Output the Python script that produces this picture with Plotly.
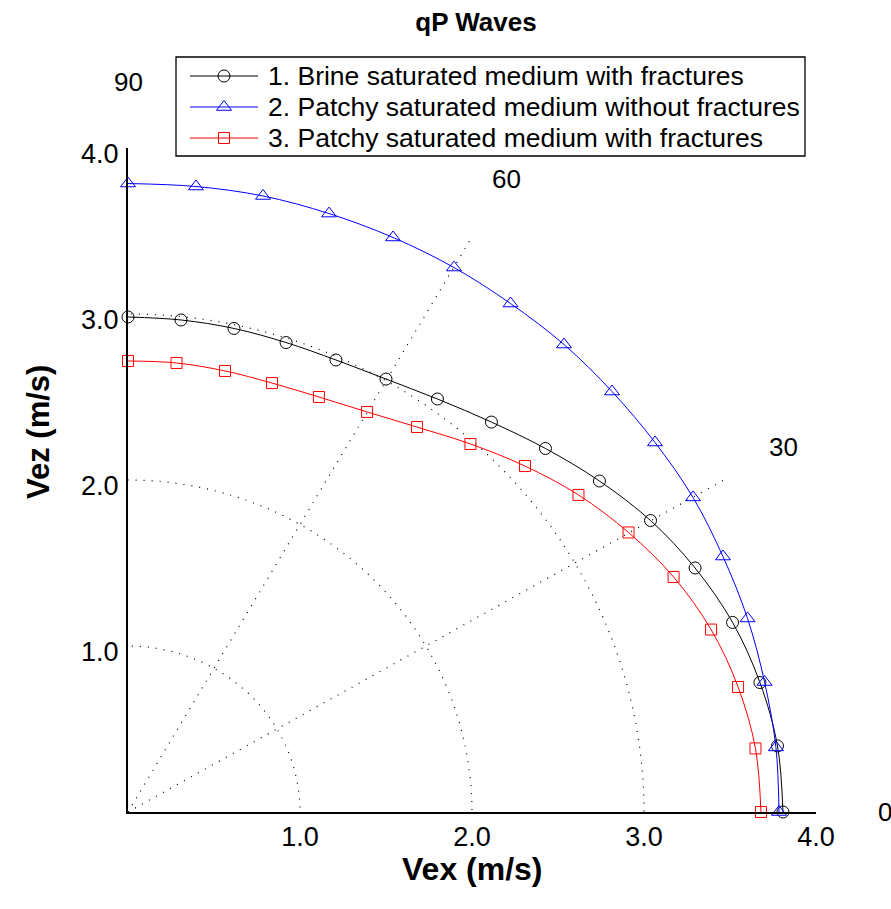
import math
import plotly.graph_objects as go

# ---- data: group velocity components (m/s) at 6-degree steps, 90 -> 0 deg ----
vex_brine = [0.000, 0.308, 0.616, 0.919, 1.209, 1.500, 1.799, 2.113,
             2.427, 2.741, 3.038, 3.297, 3.515, 3.674, 3.776, 3.808]
vez_brine = [2.982, 2.964, 2.913, 2.828, 2.723, 2.608, 2.488, 2.349,
             2.190, 1.994, 1.756, 1.470, 1.142, 0.780, 0.398, 0.000]

vex_patchy_nofrac = [0.000, 0.395, 0.785, 1.169, 1.541, 1.895, 2.224, 2.535,
                     2.814, 3.064, 3.285, 3.459, 3.602, 3.701, 3.767, 3.785]
vez_patchy_nofrac = [3.786, 3.768, 3.711, 3.605, 3.461, 3.280, 3.063, 2.816,
                     2.533, 2.226, 1.895, 1.539, 1.166, 0.783, 0.389, 0.000]

vex_patchy_frac = [0.000, 0.282, 0.564, 0.837, 1.110, 1.390, 1.680, 1.991,
                   2.308, 2.619, 2.910, 3.172, 3.390, 3.547, 3.648, 3.680]
vez_patchy_frac = [2.717, 2.705, 2.657, 2.584, 2.500, 2.410, 2.319, 2.217,
                   2.084, 1.910, 1.684, 1.416, 1.099, 0.753, 0.383, 0.000]

series_names = ["1. Brine saturated medium with fractures",
                "2. Patchy saturated medium without fractures",
                "3. Patchy saturated medium with fractures"]

radial_ticks = [1.0, 2.0, 3.0, 4.0]
radial_tick_text = ["1.0", "2.0", "3.0", "4.0"]
grid_circles = [1.0, 2.0, 3.0]
spoke_angles = [30, 60]
angle_labels = [0, 30, 60, 90]

# ---- page geometry (pixels) ----
W, H = 891, 909
L, R, T, B = 128, 816, 148, 812
FONT = "Liberation Sans, Arial, Helvetica, sans-serif"

x_dom = [L / W, R / W]
y_dom = [(H - B) / H, (H - T) / H]
rmax = radial_ticks[-1]


def to_paper(x, y):
    """Map data coordinates of the main axes to paper fractions."""
    px = x_dom[0] + (x / rmax) * (x_dom[1] - x_dom[0])
    py = y_dom[0] + (y / rmax) * (y_dom[1] - y_dom[0])
    return px, py


fig = go.Figure()

styles = [
    dict(color="#000000", symbol="circle-open", size=12),
    dict(color="#0000ff", symbol="triangle-up-open", size=13),
    dict(color="#ff0000", symbol="square-open", size=11),
]
curves = [(vex_brine, vez_brine),
          (vex_patchy_nofrac, vez_patchy_nofrac),
          (vex_patchy_frac, vez_patchy_frac)]

for name, (vx, vz), st in zip(series_names, curves, styles):
    fig.add_trace(go.Scatter(
        x=vx, y=vz, name=name, mode="lines+markers",
        line=dict(color=st["color"], width=1, shape="spline", smoothing=1.0),
        marker=dict(symbol=st["symbol"], size=st["size"], color=st["color"],
                    line=dict(color=st["color"], width=1)),
        cliponaxis=False, showlegend=False, xaxis="x", yaxis="y"))

# ---- dotted polar grid ----
dot = dict(color="#000000", width=1.2, dash="1px,7px")
shapes = []
for r in grid_circles:
    shapes.append(dict(type="circle", xref="x", yref="y", x0=-r, y0=-r, x1=r, y1=r,
                       line=dot, layer="below"))
for a in spoke_angles:
    t = math.radians(a)
    shapes.append(dict(type="line", xref="x", yref="y", x0=0, y0=0,
                       x1=rmax * math.cos(t), y1=rmax * math.sin(t),
                       line=dot, layer="below"))

# angle labels just outside the outer radius
annotations = []
for a in angle_labels:
    t = math.radians(a)
    ax_, ay_ = to_paper(1.1 * rmax * math.cos(t), 1.1 * rmax * math.sin(t))
    annotations.append(dict(x=ax_, y=ay_, xref="paper", yref="paper",
                            text=str(a), showarrow=False,
                            xanchor="center", yanchor="middle",
                            font=dict(family=FONT, size=26, color="#000")))

# axis titles
annotations.append(dict(x=472 / W, y=1 - 869 / H, xref="paper", yref="paper",
                        text="<b>Vex (m/s)</b>", showarrow=False,
                        xanchor="center", yanchor="middle",
                        font=dict(family=FONT, size=32, color="#000")))
annotations.append(dict(x=38 / W, y=1 - 432 / H, xref="paper", yref="paper",
                        text="<b>Vez (m/s)</b>", showarrow=False, textangle=-90,
                        xanchor="center", yanchor="middle",
                        font=dict(family=FONT, size=31, color="#000")))

# ---- legend box drawn on a pixel-unit overlay ----
leg_x0, leg_x1, leg_y0, leg_y1 = 176, 805, 57, 156
row_y = [76, 107, 138]
samp_x0, samp_x1, samp_mid, text_x = 190, 258, 224, 266

shapes.append(dict(type="rect", xref="x2", yref="y2", x0=leg_x0, x1=leg_x1,
                   y0=leg_y0, y1=leg_y1, line=dict(color="#000", width=1.3),
                   fillcolor="white", layer="below"))
for name, st, yy in zip(series_names, styles, row_y):
    fig.add_trace(go.Scatter(
        x=[samp_x0, samp_x1], y=[yy, yy], mode="lines",
        line=dict(color=st["color"], width=1), showlegend=False, hoverinfo="skip",
        xaxis="x2", yaxis="y2"))
    fig.add_trace(go.Scatter(
        x=[samp_mid], y=[yy], mode="markers",
        marker=dict(symbol=st["symbol"], size=st["size"], color=st["color"],
                    line=dict(color=st["color"], width=1)),
        showlegend=False, hoverinfo="skip", cliponaxis=False,
        xaxis="x2", yaxis="y2"))
    annotations.append(dict(x=text_x, y=yy, xref="x2", yref="y2", text=name,
                            showarrow=False, xanchor="left", yanchor="middle",
                            font=dict(family=FONT, size=26.5, color="#000")))

fig.update_layout(
    template="none",
    width=W, height=H, autosize=False,
    margin=dict(l=0, r=0, t=0, b=0, pad=0, autoexpand=False),
    paper_bgcolor="white", plot_bgcolor="rgba(0,0,0,0)",
    title=dict(text="<b>qP Waves</b>", x=476 / W, y=1 - 22 / H,
               xanchor="center", yanchor="middle", xref="paper", yref="paper",
               font=dict(family=FONT, size=26, color="#000")),
    xaxis=dict(domain=x_dom, range=[0, rmax], anchor="y", automargin=False,
               showline=True, linecolor="#000", linewidth=2,
               tickvals=radial_ticks, ticktext=radial_tick_text, ticks="",
               showgrid=False, zeroline=False, ticklabelstandoff=0,
               tickfont=dict(family=FONT, size=27, color="#000")),
    yaxis=dict(domain=y_dom, range=[0, rmax], anchor="x", automargin=False,
               showline=True, linecolor="#000", linewidth=2,
               tickvals=radial_ticks, ticktext=radial_tick_text, ticks="",
               showgrid=False, zeroline=False, ticklabelstandoff=2,
               ticklabelshift=6,
               tickfont=dict(family=FONT, size=27, color="#000")),
    xaxis2=dict(domain=[0, 1], range=[0, W], anchor="y2", visible=False,
                automargin=False, fixedrange=True),
    yaxis2=dict(domain=[0, 1], range=[H, 0], anchor="x2", visible=False,
                automargin=False, fixedrange=True),
    shapes=shapes,
    annotations=annotations,
    showlegend=False,
)

fig.write_html("out.html")
